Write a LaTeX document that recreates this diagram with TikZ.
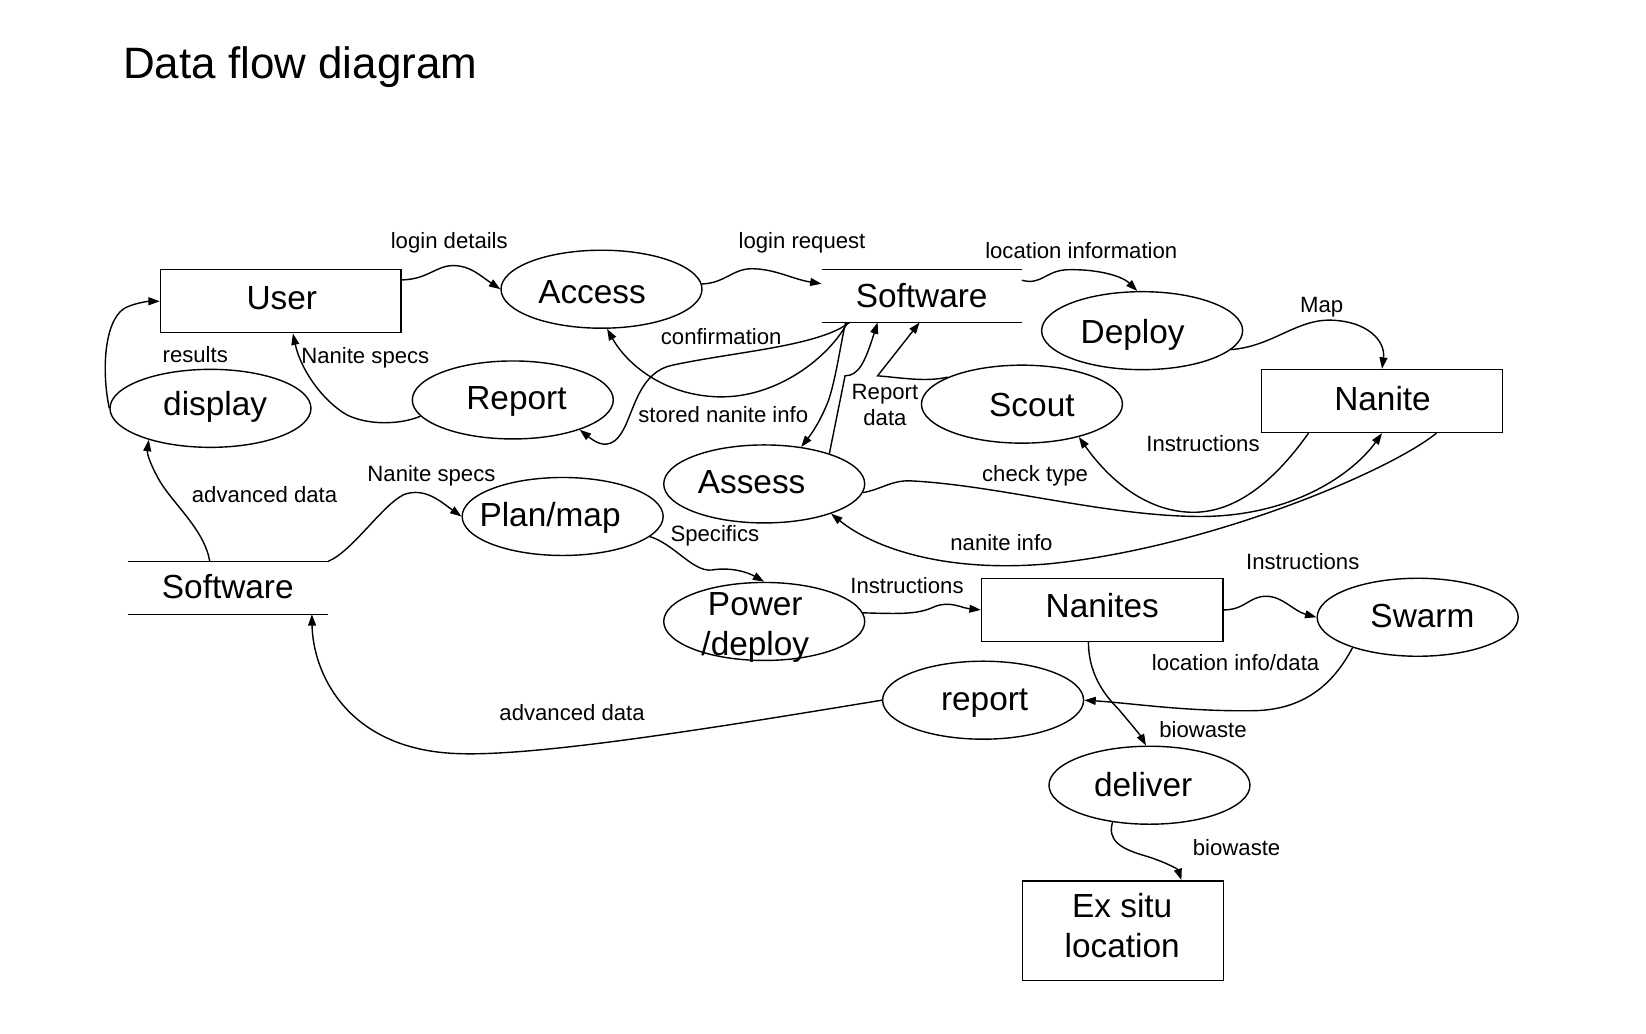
\documentclass[tikz,border=0pt]{standalone}
\usepackage{fontspec}
\setmainfont{Liberation Sans}
\usetikzlibrary{shapes.geometric,arrows.meta,calc}
\begin{document}
\begin{tikzpicture}[x=0.021cm,y=-0.021cm,
  proc/.style={ellipse,draw,line width=0.8pt,minimum width=4.02cm,minimum height=1.56cm,inner sep=0pt},
  ent/.style={rectangle,draw,line width=0.8pt,minimum width=4.81cm,minimum height=1.26cm,inner sep=0pt},
  store/.style={rectangle,minimum width=3.99cm,minimum height=1.04cm,inner sep=0pt},
  ntxt/.style={font=\fontsize{19}{23}\selectfont,inner sep=0pt,anchor=base},
  lbl/.style={font=\fontsize{12.6}{15}\selectfont,inner sep=0pt,align=center},
  flow/.style={line width=0.8pt,-{Triangle[length=6.5pt,width=4.5pt]}},
  storeline/.style={line width=0.8pt}
]
\useasboundingbox (0,0) rectangle (1568,985);
\fill[white] (0,0) rectangle (1568,985);

% title
\node[font=\fontsize{25}{30}\selectfont,anchor=base west,inner sep=0pt] (title) at (117,75) {Data flow diagram};

% shapes
\node[ent] (user) at (267.5,287) {};
\node[proc] (access) at (573,275.5) {};
\node[store] (sw1) at (878,282) {};
\draw[storeline] (sw1.north west) -- (sw1.north east);
\draw[storeline] (sw1.south west) -- (sw1.south east);
\node[proc] (deploy) at (1088,315) {};
\node[ent] (nanite) at (1316.5,382) {};
\node[proc] (scout) at (973.5,385) {};
\node[proc] (report) at (488.5,381) {};
\node[proc] (display) at (200.5,389) {};
\node[proc] (assess) at (728,461) {};
\node[proc] (plan) at (536,492) {};
\node[store] (sw2) at (217,560) {};
\draw[storeline] (sw2.north west) -- (sw2.north east);
\draw[storeline] (sw2.south west) -- (sw2.south east);
\node[proc] (power) at (728,592) {};
\node[ent,minimum width=4.83cm] (nanites) at (1050,581) {};
\node[proc] (swarm) at (1350.5,588) {};
\node[proc] (rep2) at (936.5,667) {};
\node[proc] (deliver) at (1095,748) {};
\node[ent,minimum width=4.02cm,minimum height=1.99cm] (exsitu) at (1069.5,886.5) {};

% node texts
\node[ntxt] (user-t) at (268.5,294.5) {User};
\node[ntxt] (access-t) at (564,289) {Access};
\node[ntxt] (sw1-t) at (878,292.5) {Software};
\node[ntxt] (deploy-t) at (1079,327) {Deploy};
\node[ntxt] (nanite-t) at (1317,391) {Nanite};
\node[ntxt] (scout-t) at (983,397) {Scout};
\node[ntxt] (report-t) at (492,390) {Report};
\node[ntxt] (display-t) at (205,396) {display};
\node[ntxt] (assess-t) at (716,470.5) {Assess};
\node[ntxt] (plan-t) at (524,502) {Plan/map};
\node[ntxt] (sw2-t) at (217,570.5) {Software};
\node[ntxt] (power-t1) at (719.5,586) {Power};
\node[ntxt] (power-t2) at (719.5,624) {/deploy};
\node[ntxt] (nanites-t) at (1050,588.5) {Nanites};
\node[ntxt] (swarm-t) at (1355,597.5) {Swarm};
\node[ntxt] (rep2-t) at (938,676.5) {report};
\node[ntxt] (deliver-t) at (1089,759) {deliver};
\node[ntxt] (exsitu-t1) at (1069,874) {Ex situ};
\node[ntxt] (exsitu-t2) at (1069,912) {location};

% labels
\node[lbl] (l1) at (428,231) {login details};
\node[lbl] (l2) at (764,231) {login request};
\node[lbl] (l3) at (1030,239) {location information};
\node[lbl] (l4) at (1259,293) {Map};
\node[lbl] (l5) at (687,321) {confirmation};
\node[lbl] (l6) at (186,338) {results};
\node[lbl] (l7) at (348,341) {Nanite specs};
\node[lbl] (l8) at (689,395) {stored nanite info};
\node[lbl] (l9) at (843,386) {Report\\data};
\node[lbl] (l10) at (1146,423) {Instructions};
\node[lbl] (l11) at (986,453) {check type};
\node[lbl] (l12) at (252,471) {advanced data};
\node[lbl] (l13) at (411,453) {Nanite specs};
\node[lbl] (l14) at (681,510) {Specifics};
\node[lbl] (l15) at (954,517) {nanite info};
\node[lbl] (l16) at (1241,535) {Instructions};
\node[lbl] (l17) at (864,558) {Instructions};
\node[lbl] (l18) at (1177,631) {location info/data};
\node[lbl] (l19) at (545,679) {advanced data};
\node[lbl] (l20) at (1146,695) {biowaste};
\node[lbl] (l21) at (1178,807) {biowaste};

% connectors
% login details
\draw[flow] (user.10) .. controls (408,266) and (415,253) .. (432,253)
  .. controls (448,253) and (458,263) .. (access.west);
% login request
\draw[flow] (access.3) .. controls (690,270) and (698,256) .. (716,256)
  .. controls (738,256) and (755,266) .. (sw1.173);
% location information
\draw[flow] ($(sw1.north east)!0.2!(sw1.south east)$) .. controls (992,272) and (996,258) .. (1016,257)
  .. controls (1042,256) and (1068,262) .. (deploy.97);
% Map
\draw[flow] (deploy.-12) .. controls (1212,330) and (1235,304) .. (1268,305)
  .. controls (1303,306) and (1320,325) .. (nanite.north);
% confirmation
\draw[flow] ($(sw1.south west)!0.13!(sw1.south east)$) .. controls (790,340) and (740,380) .. (683,378)
  .. controls (630,376) and (596,345) .. (access.-82);
% stored nanite info
\draw[flow] ($(sw1.south west)!0.14!(sw1.south east)$) .. controls (780,330) and (700,335) .. (640,348)
  .. controls (612,354) and (605,385) .. (596,405)
  .. controls (588,422) and (578,430) .. (report.-24);
% software -> assess
\draw[flow] ($(sw1.south west)!0.12!(sw1.south east)$) .. controls (800,332) and (796,362) .. (789,382)
  .. controls (782,400) and (774,412) .. (assess.45);
% assess -> software
\draw[flow] (assess.25) -- (805,358) .. controls (818,358) and (824,345) .. ($(sw1.south west)!0.28!(sw1.south east)$);
% scout -> software (Report data)
\draw[flow] (scout.160) .. controls (882,364) and (860,360) .. (836,358) -- ($(sw1.south west)!0.49!(sw1.south east)$);
% Nanite -> Scout (Instructions)
\draw[flow] ($(nanite.south west)!0.196!(nanite.south east)$) .. controls (1220,450) and (1182,489) .. (1135,488)
  .. controls (1090,487) and (1055,455) .. (scout.-30);
% check type
\draw[flow] (assess.-5) .. controls (840,466) and (848,458) .. (866,458)
  .. controls (950,462) and (1050,491) .. (1140,492)
  .. controls (1232,493) and (1290,450) .. (nanite.south);
% nanite info
\draw[flow] ($(nanite.south west)!0.725!(nanite.south east)$) .. controls (1322,450) and (1150,522) .. (1000,537)
  .. controls (900,546) and (832,522) .. (assess.-24);
% advanced data -> display
\draw[flow] ($(sw2.north west)!0.41!(sw2.north east)$) .. controls (195,505) and (165,480) .. (152,458)
  .. controls (143,442) and (140,432) .. (display.-153);
% results
\draw[flow] (display.west) .. controls (96,350) and (100,300) .. (122,292)
  .. controls (132,288) and (142,287) .. (user.west);
% Nanite specs report -> user
\draw[flow] (report.190) .. controls (380,405) and (350,405) .. (330,395)
  .. controls (305,380) and (286,350) .. ($(user.south west)!0.55!(user.south east)$);
% Nanite specs software -> plan
\draw[flow] (sw2.north east) .. controls (336,525) and (364,481) .. (385,471)
  .. controls (405,464) and (420,478) .. (plan.west);
% Specifics
\draw[flow] (plan.-13) .. controls (642,518) and (660,545) .. (678,543)
  .. controls (696,540) and (712,545) .. (power.north);
% Instructions power -> nanites
\draw[flow] (power.5) .. controls (860,585) and (875,585) .. (890,578)
  .. controls (905,572) and (915,579) .. (nanites.west);
% Instructions nanites -> swarm
\draw[flow] (nanites.east) .. controls (1186,581) and (1190,568) .. (1206,568)
  .. controls (1222,568) and (1232,582) .. (swarm.west);
% location info/data
\draw[flow] (swarm.-155) .. controls (1270,652) and (1242,676) .. (1195,677)
  .. controls (1130,678) and (1080,670) .. (rep2.east);
% biowaste nanites -> deliver
\draw[flow] ($(nanites.south west)!0.443!(nanites.south east)$) .. controls (1037,640) and (1050,660) .. (1065,675)
  .. controls (1076,688) and (1086,700) .. (deliver.95);
% biowaste deliver -> ex situ
\draw[flow] (deliver.-135) .. controls (1055,800) and (1066,808) .. (1090,815)
  .. controls (1110,821) and (1122,828) .. ($(exsitu.north west)!0.79!(exsitu.north east)$);
% advanced data report -> software
\draw[flow] (rep2.west) .. controls (700,690) and (520,720) .. (440,718)
  .. controls (330,716) and (298,640) .. ($(sw2.south west)!0.92!(sw2.south east)$);
\end{tikzpicture}
\end{document}
